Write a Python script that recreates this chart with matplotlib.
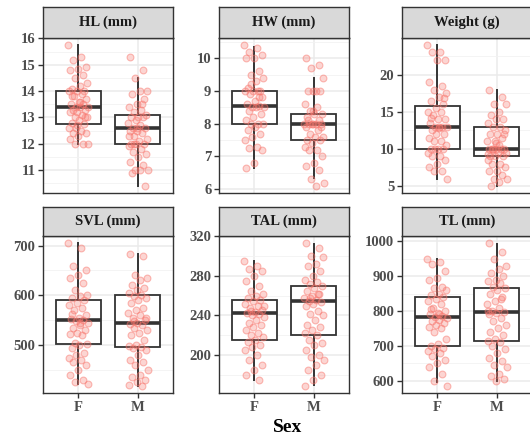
import matplotlib
matplotlib.use("Agg")
import matplotlib.pyplot as plt
from matplotlib.ticker import MultipleLocator

# ---------------- data ----------------
panels = ["HL (mm)", "HW (mm)", "Weight (g)", "SVL (mm)", "TAL (mm)", "TL (mm)"]
sexes = ["F", "M"]

hl_f = [15.75, 15.3, 15.2, 14.9, 14.85, 14.8, 14.6, 14.5, 14.3, 14.2, 14.1, 14.0, 14.0, 14.0, 13.9, 13.8,
        13.7, 13.6, 13.5, 13.5, 13.4, 13.4, 13.4, 13.3, 13.3, 13.2, 13.2, 13.1, 13.0, 13.0, 12.9, 12.8,
        12.75, 12.6, 12.6, 12.5, 12.4, 12.4, 12.3, 12.2, 12.0, 12.0, 12.0, 13.6, 13.8, 13.0, 12.7]
hl_m = [15.3, 14.8, 14.5, 14.0, 14.0, 13.9, 13.7, 13.5, 13.4, 13.3, 13.2, 13.1, 13.0, 13.0, 13.0, 12.9,
        12.8, 12.7, 12.6, 12.6, 12.6, 12.5, 12.4, 12.3, 12.2, 12.1, 12.0, 12.0, 12.0, 11.9, 11.8, 11.7,
        11.6, 11.5, 11.3, 11.2, 11.0, 11.0, 11.0, 10.9, 10.4, 12.5, 12.3, 13.5, 12.0]
hw_f = [10.4, 10.3, 10.2, 10.1, 10.0, 10.0, 9.6, 9.5, 9.4, 9.3, 9.1, 9.0, 9.0, 9.0, 9.0, 8.9, 8.8, 8.7,
        8.6, 8.55, 8.5, 8.5, 8.5, 8.4, 8.3, 8.2, 8.1, 8.0, 8.0, 8.0, 7.9, 7.8, 7.7, 7.6, 7.5, 7.3, 7.25,
        7.2, 6.8, 6.65, 8.8, 9.2]
hw_m = [10.0, 9.8, 9.7, 9.4, 9.0, 9.0, 9.0, 9.0, 8.6, 8.5, 8.4, 8.3, 8.3, 8.2, 8.1, 8.0, 8.0, 8.0, 8.0,
        8.0, 8.0, 7.9, 7.8, 7.7, 7.6, 7.6, 7.5, 7.5, 7.4, 7.3, 7.2, 7.2, 7.0, 6.8, 6.7, 6.6, 6.3, 6.2,
        6.1, 8.1, 7.9, 8.4]
wt_f = [24, 23, 23, 22, 22, 19, 18.5, 18, 17.5, 17, 16.5, 16, 15.5, 15, 15, 14.5, 14, 14, 13.5, 13, 13,
        13, 13, 12.5, 12, 12, 11.5, 11, 11, 10.5, 10, 10, 10, 10, 9.5, 9, 9, 8.5, 8, 7.5, 7, 7, 6, 12.8,
        14.2, 16.8]
wt_m = [18, 17, 16, 16, 15, 14.5, 14, 14, 13.5, 13, 13, 12.5, 12, 12, 11.5, 11, 11, 10.5, 10, 10, 10, 10,
        10, 10, 9.5, 9.5, 9, 9, 9, 8.5, 8, 8, 7.5, 7, 7, 6.5, 6, 6, 5.5, 5, 12, 10.8, 9.3]
svl_f = [705, 695, 660, 650, 640, 635, 625, 610, 600, 598, 595, 590, 585, 580, 575, 570, 560, 555, 552,
         550, 548, 545, 540, 535, 530, 525, 522, 520, 505, 502, 500, 495, 485, 480, 475, 470, 465, 460,
         450, 440, 430, 425, 422, 545, 562]
svl_m = [683, 680, 640, 635, 630, 620, 615, 610, 605, 600, 598, 595, 590, 585, 575, 570, 565, 560, 555,
         550, 545, 543, 540, 535, 530, 525, 520, 510, 500, 498, 497, 495, 490, 480, 470, 465, 460, 450,
         440, 435, 430, 425, 420, 418, 548, 555]
tal_f = [295, 290, 287, 285, 280, 275, 270, 265, 262, 260, 258, 256, 255, 252, 250, 248, 246, 244, 243,
         242, 240, 238, 235, 232, 230, 228, 225, 222, 220, 218, 215, 213, 210, 208, 205, 200, 195, 190,
         185, 180, 175, 245, 250]
tal_m = [313, 308, 300, 299, 292, 290, 285, 280, 276, 274, 272, 270, 268, 265, 262, 260, 258, 256, 255,
         254, 252, 250, 245, 242, 240, 235, 230, 228, 225, 222, 220, 215, 212, 210, 205, 200, 198, 195,
         190, 185, 180, 175, 169, 262, 258]
tl_f = [950, 940, 935, 915, 895, 890, 870, 865, 860, 850, 845, 840, 835, 830, 820, 810, 800, 795, 790,
        785, 782, 780, 775, 770, 765, 760, 755, 750, 740, 720, 705, 700, 695, 690, 685, 680, 670, 660,
        650, 640, 620, 600, 585, 790, 805]
tl_m = [995, 970, 950, 930, 920, 910, 900, 890, 885, 880, 870, 865, 860, 850, 840, 830, 820, 810, 800,
        797, 795, 790, 780, 770, 760, 750, 740, 730, 720, 713, 710, 700, 690, 680, 665, 655, 645, 640,
        620, 612, 605, 600, 800, 835]

points = [(hl_f, hl_m), (hw_f, hw_m), (wt_f, wt_m), (svl_f, svl_m), (tal_f, tal_m), (tl_f, tl_m)]

# box statistics: (whislo, q1, median, q3, whishi) for F and M
box_f = [(12.0, 12.75, 13.4, 14.0, 15.75), (6.65, 8.0, 8.55, 9.0, 10.35), (6, 10, 13, 15.8, 24),
         (422, 502, 550, 590, 705), (175, 215, 243, 256, 295), (597, 700, 782, 840, 948)]
box_m = [(10.4, 12.0, 12.6, 13.1, 14.5), (6.35, 7.5, 8.0, 8.3, 9.4), (5, 9, 10, 13, 18),
         (418, 497, 545, 600, 683), (170, 220, 255, 270, 312), (600, 713, 797, 865, 992)]

major_steps = [1, 1, 5, 100, 40, 100]

# ---------------- layout ----------------
W, H = 530, 437
fig = plt.figure(figsize=(W / 100, H / 100), dpi=100)
plt.rcParams['font.family'] = ['Liberation Serif', 'DejaVu Serif']


def rect(l, t, r, b):
    return [l / W, 1 - b / H, (r - l) / W, (b - t) / H]


cols = [(43, 173), (219, 349), (402, 532)]
rows = [((7, 38), (38, 193)), ((207, 236), (236, 393))]

dark = "#333333"

for i, name in enumerate(panels):
    r, c = divmod(i, 3)
    (st, sb), (pt, pb) = rows[r]
    cl, cr = cols[c]
    ax = fig.add_axes(rect(cl, pt, cr, pb))
    sax = fig.add_axes(rect(cl, st, cr, sb))

    # strip
    sax.set_facecolor("#D9D9D9")
    sax.set_xticks([]); sax.set_yticks([])
    for s in sax.spines.values():
        s.set_color(dark); s.set_linewidth(1.0)
    sax.text(0.5, 0.5, name, ha="center", va="center", fontsize=10.5, fontweight="bold",
             color="#1A1A1A", transform=sax.transAxes)

    # boxes
    stats = []
    for b in (box_f[i], box_m[i]):
        stats.append(dict(whislo=b[0], q1=b[1], med=b[2], q3=b[3], whishi=b[4], fliers=[]))
    ax.bxp(stats, positions=[1, 2], widths=0.75, showcaps=False, showfliers=False,
           patch_artist=True,
           boxprops=dict(facecolor="white", edgecolor=dark, linewidth=1.3),
           medianprops=dict(color=dark, linewidth=2.6),
           whiskerprops=dict(color=dark, linewidth=1.4), zorder=2)

    # jittered points
    for k, vals in enumerate(points[i]):
        xs = [k + 1 + (((j * 0.6180339887 + 0.13 * k) % 1.0) - 0.5) * 0.34 for j in range(len(vals))]
        ax.scatter(xs, vals, s=24, facecolor=(0.973, 0.463, 0.427, 0.3),
                   edgecolor=(0.973, 0.463, 0.427, 0.5), linewidth=0.8, zorder=3)

    ax.set_xlim(0.4, 2.6)
    ax.margins(y=0.05)
    ax.yaxis.set_major_locator(MultipleLocator(major_steps[i]))
    ax.yaxis.set_minor_locator(MultipleLocator(major_steps[i] / 2))
    ax.set_xticks([1, 2])
    ax.grid(True, which="major", color="#EBEBEB", linewidth=1.1, zorder=0)
    ax.grid(True, which="minor", axis="y", color="#F2F2F2", linewidth=0.6, zorder=0)
    ax.set_axisbelow(True)
    ax.tick_params(which="minor", length=0)
    ax.tick_params(which="major", length=3.5, width=1.0, color=dark, labelsize=10.5,
                   labelcolor="#4D4D4D", pad=2)
    for lab in ax.get_yticklabels():
        lab.set_fontweight("bold")
    if r == 1:
        ax.set_xticklabels(sexes, fontweight="bold", fontsize=10.5, color="#4D4D4D")
    else:
        ax.tick_params(axis="x", length=0, labelbottom=False)
    for s in ax.spines.values():
        s.set_color(dark); s.set_linewidth(1.0)

fig.text(287.5 / W, 1 - 428 / H, "Sex", ha="center", va="center", fontsize=14,
         fontweight="bold", color="black")

fig.savefig("out.png", dpi=100)
